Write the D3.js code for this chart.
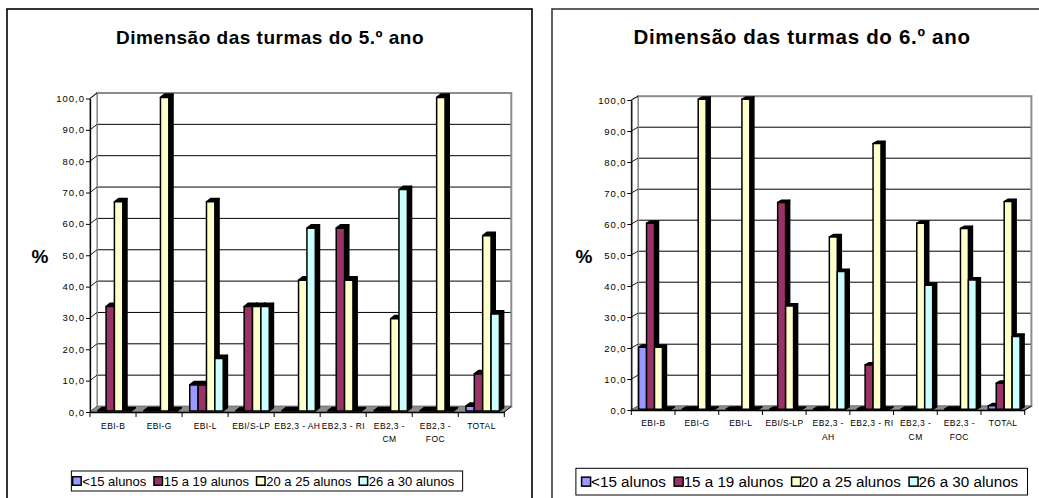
<!DOCTYPE html>
<html><head><meta charset="utf-8">
<script src="https://cdn.jsdelivr.net/npm/d3@7"></script>
<style>
body{margin:0;background:#fff;}
svg{display:block;font-family:Arial,"Liberation Sans",sans-serif;}
</style>
</head><body>
<svg id="c" width="1039" height="498"></svg>
<script>
// Series (class size bands) and their colours
const seriesNames = ["<15 alunos", "15 a 19 alunos", "20 a 25 alunos", "26 a 30 alunos"];
const seriesColors = ["#9999FF", "#993366", "#FFFFCC", "#CCFFFF"];

// Schools
const categories = ["EBI-B", "EBI-G", "EBI-L", "EBI/S-LP", "EB2,3 - AH", "EB2,3 - RI", "EB2,3 - CM", "EB2,3 - FOC", "TOTAL"];
// Category labels as wrapped on each chart
const catLines5 = [["EBI-B"], ["EBI-G"], ["EBI-L"], ["EBI/S-LP"], ["EB2,3 - AH"], ["EB2,3 - RI"], ["EB2,3 -", "CM"], ["EB2,3 -", "FOC"], ["TOTAL"]];
const catLines6 = [["EBI-B"], ["EBI-G"], ["EBI-L"], ["EBI/S-LP"], ["EB2,3 -", "AH"], ["EB2,3 - RI"], ["EB2,3 -", "CM"], ["EB2,3 -", "FOC"], ["TOTAL"]];

// Value axis ticks (%)
const yTicks = [0, 10, 20, 30, 40, 50, 60, 70, 80, 90, 100];
const yTickLabels = ["0,0", "10,0", "20,0", "30,0", "40,0", "50,0", "60,0", "70,0", "80,0", "90,0", "100,0"];

// 5.º ano — percentage of classes per size band, by school
const ano5_lt15   = [0, 0, 8.3, 0, 0, 0, 0, 0, 1.5];
const ano5_15a19  = [33.3, 0, 8.3, 33.3, 0, 58.3, 0, 0, 11.8];
const ano5_20a25  = [66.7, 100, 66.7, 33.3, 41.7, 41.7, 29.4, 100, 55.9];
const ano5_26a30  = [0, 0, 16.7, 33.3, 58.3, 0, 70.6, 0, 30.9];

// 6.º ano
const ano6_lt15   = [20, 0, 0, 0, 0, 0, 0, 0, 1.1];
const ano6_15a19  = [60, 0, 0, 66.7, 0, 14.3, 0, 0, 8.4];
const ano6_20a25  = [20, 100, 100, 33.3, 55.6, 85.7, 60, 58.3, 67.0];
const ano6_26a30  = [0, 0, 0, 0, 44.4, 0, 40, 41.7, 23.5];

const svg = d3.select("#c");

function drawChart(cfg) {
  const g = svg.append("g");
  const series = cfg.values;

  // outer frame
  g.append("rect").attr("x", cfg.frame.x).attr("y", cfg.frame.y)
    .attr("width", cfg.frame.w).attr("height", cfg.frame.h)
    .attr("fill", "#fff").attr("stroke", cfg.frame.stroke).attr("stroke-width", 1.6);

  // title
  g.append("text").attr("x", cfg.title.x).attr("y", cfg.title.y)
    .attr("text-anchor", "middle").attr("font-weight", "bold")
    .attr("font-size", cfg.title.size).attr("letter-spacing", cfg.title.ls)
    .text(cfg.title.text);

  const P = cfg.plot;
  const y = d3.scaleLinear().domain([0, 100]).range([P.y0, P.y100]);
  const x = d3.scaleBand().domain(categories).range([P.x0, P.x1]).padding(0);
  const xs = d3.scaleBand().domain(d3.range(seriesNames.length))
    .range([0, x.bandwidth()]).paddingInner(0).paddingOuter(0.75);
  const dx = P.dx, dy = P.dy;
  const f0 = 0.2, f1 = 0.8; // depth slot occupied by the columns

  // back wall with gridlines
  g.append("rect").attr("x", P.x0 + dx).attr("y", y(100) + dy)
    .attr("width", P.x1 - P.x0).attr("height", y(0) - y(100))
    .attr("fill", "#fff");
  g.selectAll(".grid").data(yTicks.slice(1, -1)).enter().append("line")
    .attr("x1", P.x0 + dx).attr("x2", P.x1 + dx)
    .attr("y1", d => y(d) + dy).attr("y2", d => y(d) + dy)
    .attr("stroke", "#000").attr("stroke-width", 1);
  g.append("rect").attr("x", P.x0 + dx).attr("y", y(100) + dy)
    .attr("width", P.x1 - P.x0).attr("height", y(0) - y(100))
    .attr("fill", "none").attr("stroke", "#8c8c8c").attr("stroke-width", 2);

  // side wall
  g.append("polygon")
    .attr("points", [[P.x0, y(0)], [P.x0, y(100)], [P.x0 + dx, y(100) + dy], [P.x0 + dx, y(0) + dy]].join(" "))
    .attr("fill", "#fff").attr("stroke", "#8c8c8c").attr("stroke-width", 1.2);
  g.selectAll(".sidegrid").data(yTicks).enter().append("line")
    .attr("x1", P.x0).attr("x2", P.x0 + dx)
    .attr("y1", d => y(d)).attr("y2", d => y(d) + dy)
    .attr("stroke", "#000").attr("stroke-width", 0.9);

  // floor
  g.append("polygon")
    .attr("points", [[P.x0, y(0)], [P.x1, y(0)], [P.x1 + dx, y(0) + dy], [P.x0 + dx, y(0) + dy]].join(" "))
    .attr("fill", "#8c8c8c").attr("stroke", "#7a7a7a").attr("stroke-width", 0.8);

  // columns
  const bw = xs.bandwidth();
  const ddx = dx * (f1 - f0), ddy = dy * (f1 - f0);
  categories.forEach((c, ci) => {
    series.forEach((vals, si) => {
      const v = vals[ci];
      const X = x(c) + xs(si) + dx * f0;
      const Yt = y(v) + dy * f0;
      const Yb = y(0) + dy * f0;
      const bar = g.append("g").attr("stroke", "#000").attr("stroke-width", 1.5)
        .attr("stroke-linejoin", "round");
      bar.append("polygon")
        .attr("points", [[X + bw, Yt], [X + bw + ddx, Yt + ddy], [X + bw + ddx, Yb + ddy], [X + bw, Yb]].join(" "))
        .attr("fill", "#000");
      bar.append("polygon")
        .attr("points", [[X, Yt], [X + bw, Yt], [X + bw + ddx, Yt + ddy], [X + ddx, Yt + ddy]].join(" "))
        .attr("fill", "#000");
      bar.append("rect").attr("x", X).attr("y", Yt)
        .attr("width", bw).attr("height", Yb - Yt)
        .attr("fill", seriesColors[si]);
    });
  });

  // floor right edge
  g.append("line").attr("x1", P.x1).attr("y1", y(0)).attr("x2", P.x1 + dx).attr("y2", y(0) + dy)
    .attr("stroke", "#000").attr("stroke-width", 1);

  // value axis
  const yAxis = d3.axisLeft(y).tickValues(yTicks).tickSize(4).tickSizeOuter(0)
    .tickFormat((d, i) => yTickLabels[i]);
  const ya = g.append("g").attr("transform", `translate(${P.x0},0)`).call(yAxis);
  ya.select(".domain").attr("stroke", "#000").attr("stroke-width", 1.3);
  ya.selectAll(".tick line").attr("stroke", "#000").attr("stroke-width", 1);
  ya.selectAll(".tick text").attr("font-size", cfg.tick.size).attr("fill", "#000")
    .attr("font-family", "Arial, 'Liberation Sans', sans-serif")
    .attr("letter-spacing", cfg.tick.ls).attr("x", -4 - cfg.tick.ls);

  // category axis
  const xAxis = d3.axisBottom(x).tickValues([]).tickSizeOuter(0);
  const xa = g.append("g").attr("transform", `translate(0,${P.y0})`).call(xAxis);
  xa.select(".domain").attr("stroke", "#000").attr("stroke-width", 1.3);
  const bounds = categories.map(c => x(c)).concat([P.x1]);
  g.selectAll(".ctick").data(bounds).enter().append("line")
    .attr("x1", d => d).attr("x2", d => d)
    .attr("y1", P.y0).attr("y2", P.y0 + 5)
    .attr("stroke", "#000").attr("stroke-width", 1);
  categories.forEach((c, ci) => {
    const t = g.append("text").attr("text-anchor", "middle")
      .attr("font-size", cfg.cat.size).attr("letter-spacing", cfg.cat.ls);
    cfg.cat.lines[ci].forEach((ln, li) => {
      t.append("tspan").attr("x", x(c) + x.bandwidth() / 2 + cfg.cat.ls / 2)
        .attr("y", cfg.cat.y + li * cfg.cat.lh).text(ln);
    });
  });

  // axis title
  g.append("text").attr("x", cfg.pct.x).attr("y", cfg.pct.y)
    .attr("text-anchor", "middle").attr("font-weight", "bold")
    .attr("font-size", cfg.pct.size).text("%");

  // legend
  const L = cfg.legend;
  const lg = g.append("g");
  let cx = 0;
  seriesNames.forEach((name, i) => {
    const it = lg.append("g");
    it.append("rect").attr("x", cx).attr("y", -L.sw / 2).attr("width", L.sw).attr("height", L.sw)
      .attr("fill", seriesColors[i]).attr("stroke", "#000").attr("stroke-width", 1.5);
    const t = it.append("text").attr("x", cx + L.sw + L.gap1).attr("y", L.size * 0.36)
      .attr("font-size", L.size).text(name);
    const tw = t.node().getComputedTextLength();
    cx += L.sw + L.gap1 + tw + (i < seriesNames.length - 1 ? L.gap2 : 0);
  });
  const totalW = cx + L.padL + L.padR;
  const left = L.cx - totalW / 2;
  lg.attr("transform", `translate(${left + L.padL},${L.y + L.h / 2})`);
  g.insert("rect", () => lg.node()).attr("x", left).attr("y", L.y)
    .attr("width", totalW).attr("height", L.h)
    .attr("fill", "#fff").attr("stroke", "#000").attr("stroke-width", 1);
}

drawChart({
  frame: { x: 7, y: 9, w: 525, h: 500, stroke: "#000" },
  title: { text: "Dimensão das turmas do 5.º ano", x: 270, y: 44, size: 19, ls: 0.5 },
  plot: { x0: 90, x1: 504.3, y0: 412, y100: 98.5, dx: 7, dy: -5.5 },
  values: [ano5_lt15, ano5_15a19, ano5_20a25, ano5_26a30],
  tick: { size: 9.5, ls: 1.0 },
  cat: { size: 8.5, ls: 0.4, y: 428.5, lh: 13.5, lines: catLines5 },
  pct: { x: 40, y: 263, size: 19 },
  legend: { cx: 267, y: 471, h: 20, size: 13, sw: 8.5, gap1: 1.2, gap2: 7.6, padL: 1.3, padR: 8.5 }
});

drawChart({
  frame: { x: 552, y: 9, w: 500, h: 500, stroke: "#3a3a3a" },
  title: { text: "Dimensão das turmas do 6.º ano", x: 802, y: 44, size: 20.5, ls: 0.7 },
  plot: { x0: 631.3, x1: 1024.7, y0: 410, y100: 100, dx: 6.7, dy: -3.8 },
  values: [ano6_lt15, ano6_15a19, ano6_20a25, ano6_26a30],
  tick: { size: 9.5, ls: 0.9 },
  cat: { size: 8.5, ls: 0.4, y: 425.5, lh: 14, lines: catLines6 },
  pct: { x: 584, y: 263, size: 19 },
  legend: { cx: 801.7, y: 468.3, h: 26.7, size: 15.2, sw: 9, gap1: 0.5, gap2: 8.3, padL: 5.7, padR: 9.3 }
});
</script>
</body></html>
